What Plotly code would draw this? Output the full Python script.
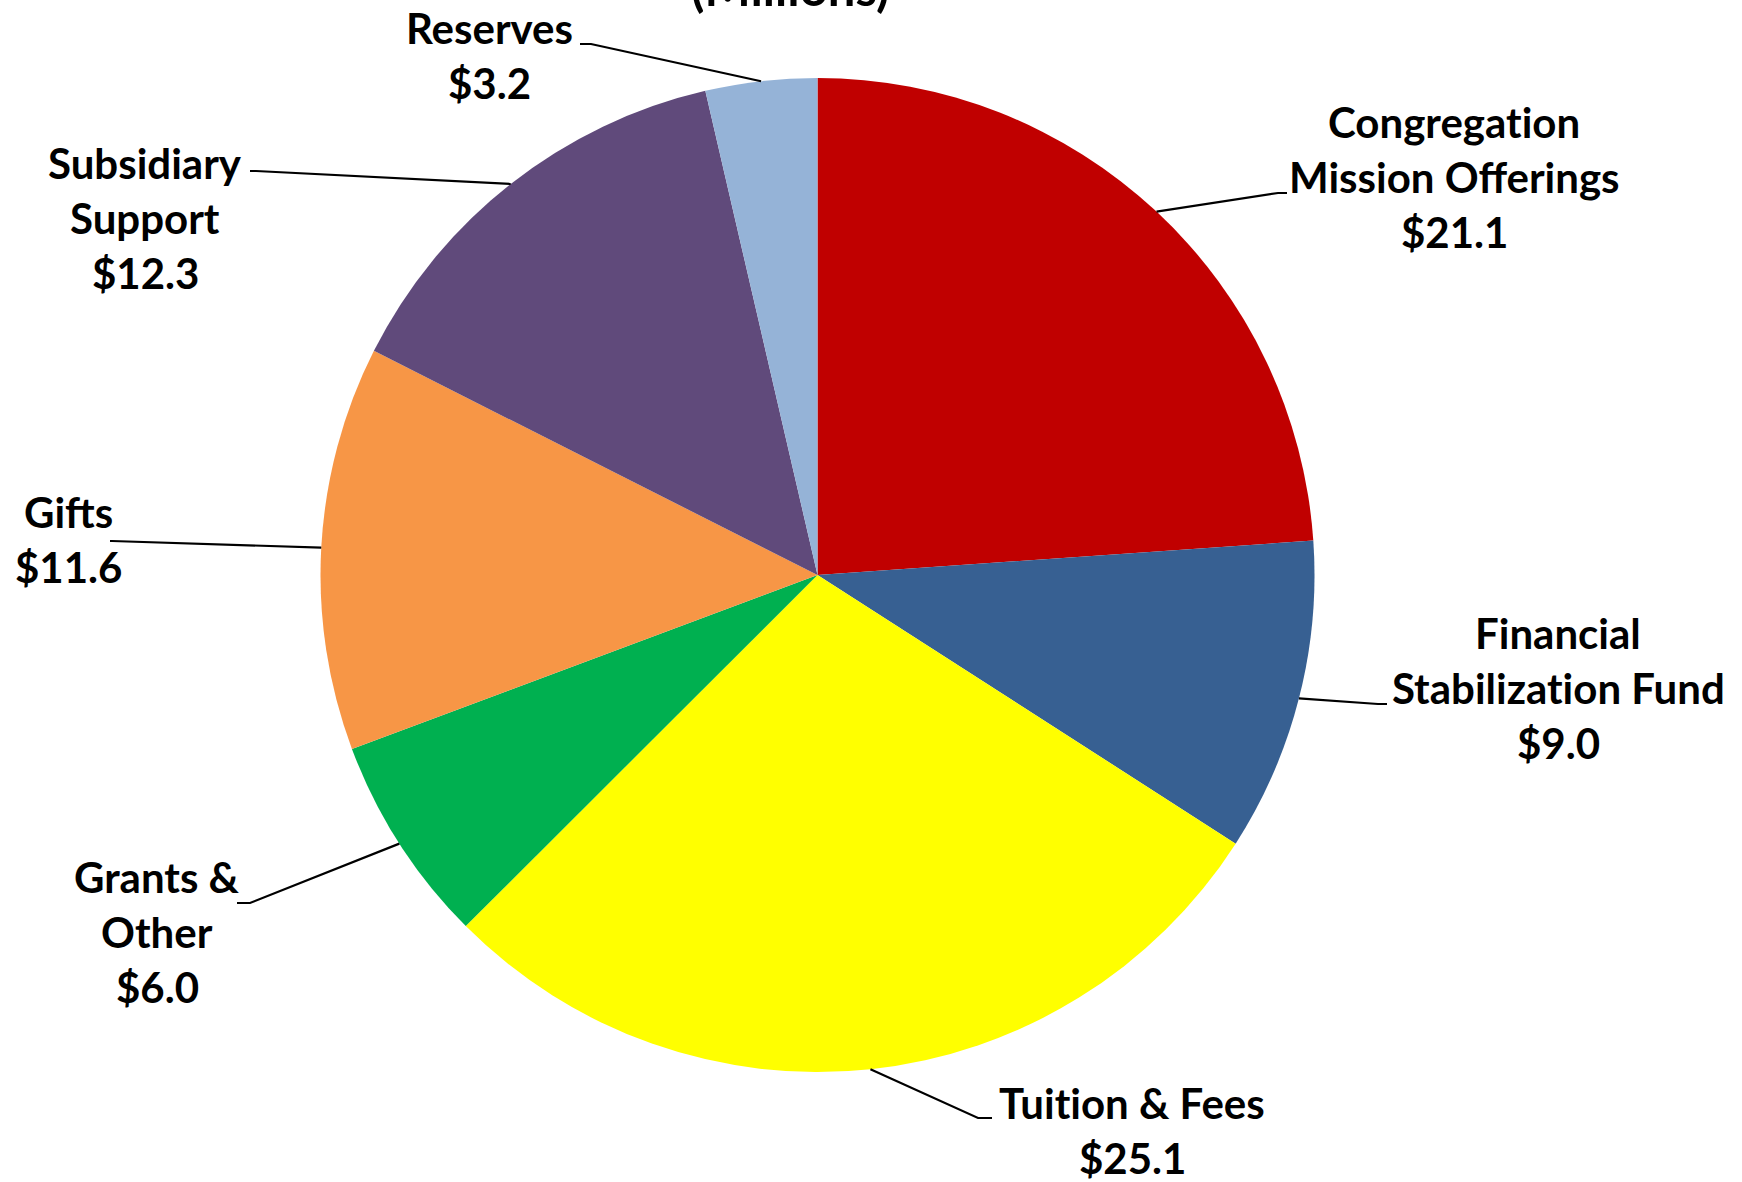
import math
import plotly.graph_objects as go

# ---- data -------------------------------------------------------------
categories = [
    "Congregation Mission Offerings",
    "Financial Stabilization Fund",
    "Tuition & Fees",
    "Grants & Other",
    "Gifts",
    "Subsidiary Support",
    "Reserves",
]
label_lines = [
    ["Congregation", "Mission Offerings"],
    ["Financial", "Stabilization Fund"],
    ["Tuition & Fees"],
    ["Grants &", "Other"],
    ["Gifts"],
    ["Subsidiary", "Support"],
    ["Reserves"],
]
amounts = [21.1, 9.0, 25.1, 6.0, 11.6, 12.3, 3.2]  # $ millions
colors = ["#C00000", "#376092", "#FFFF00", "#00B050", "#F79646", "#604A7B", "#95B3D7"]
title_text = "(Millions)"

# ---- layout geometry (pixels) -----------------------------------------
W, H = 1742, 1182
PIE_CX, PIE_CY, PIE_R = 817.5, 575.0, 497.0
FONT = "Lato, 'Open Sans', sans-serif"
FS = 42
TITLE_FS = 49
LINE_STEP = 55

# label block: centre x, first-line baseline y, leader elbow, leader end
label_pos = [
    dict(cx=1454, base=137, elbow=(1278, 193), end=(1287, 193)),
    dict(cx=1558, base=648, elbow=(1378, 704), end=(1387, 704)),
    dict(cx=1132, base=1118, elbow=(978, 1118), end=(992, 1118)),
    dict(cx=157, base=892, elbow=(250, 903), end=(237, 903)),
    dict(cx=68, base=527, elbow=(112, 541), end=(110, 541)),
    dict(cx=145, base=178, elbow=(256, 171), end=(250, 171)),
    dict(cx=490, base=43, elbow=(591, 44), end=(580, 44)),
]


def px(x):
    return x / W


def py(y):
    return 1 - y / H


def plain(s):
    # keep "t" and "i" as separate glyphs (no typographic ligature)
    return s.replace("ti", "t\u200ci")


fig = go.Figure(
    go.Pie(
        labels=categories,
        values=amounts,
        sort=False,
        direction="clockwise",
        rotation=0,
        marker=dict(colors=colors, line=dict(width=0)),
        textinfo="none",
        hoverinfo="label+value",
        showlegend=False,
        domain=dict(
            x=[px(PIE_CX - PIE_R), px(PIE_CX + PIE_R)],
            y=[py(PIE_CY + PIE_R), py(PIE_CY - PIE_R)],
        ),
    )
)

annotations = []
shapes = []
total = sum(amounts)
cum = 0.0
for lines, val, pos in zip(label_lines, amounts, label_pos):
    # leader line starts on the rim at the slice's mid angle
    mid = (cum + val / 2) / total * 2 * math.pi
    cum += val
    sx = PIE_CX + PIE_R * math.sin(mid)
    sy = PIE_CY - PIE_R * math.cos(mid)
    ex, ey = pos["elbow"]
    tx, ty = pos["end"]
    shapes.append(
        dict(
            type="path",
            xref="paper",
            yref="paper",
            path=f"M {px(sx)},{py(sy)} L {px(ex)},{py(ey)} L {px(tx)},{py(ty)}",
            line=dict(color="black", width=2.2),
        )
    )
    text_rows = lines + [f"${val:.1f}"]
    for i, row in enumerate(text_rows):
        base = pos["base"] + i * LINE_STEP
        annotations.append(
            dict(
                text=f"<b>{plain(row)}</b>",
                x=px(pos["cx"]),
                y=py(base - 0.36 * FS),
                xref="paper",
                yref="paper",
                xanchor="center",
                yanchor="middle",
                showarrow=False,
                font=dict(family=FONT, size=FS, color="black"),
            )
        )

# chart title (its upper line sits above the top edge)
annotations.append(
    dict(
        text=f"<b>{title_text}</b>",
        x=px(790),
        y=py(5 - 0.36 * TITLE_FS),
        xref="paper",
        yref="paper",
        xanchor="center",
        yanchor="middle",
        showarrow=False,
        font=dict(family=FONT, size=TITLE_FS, color="black"),
    )
)

fig.update_layout(
    width=W,
    height=H,
    margin=dict(l=0, r=0, t=0, b=0),
    paper_bgcolor="white",
    plot_bgcolor="white",
    annotations=annotations,
    shapes=shapes,
)

fig.write_html("out.html")
